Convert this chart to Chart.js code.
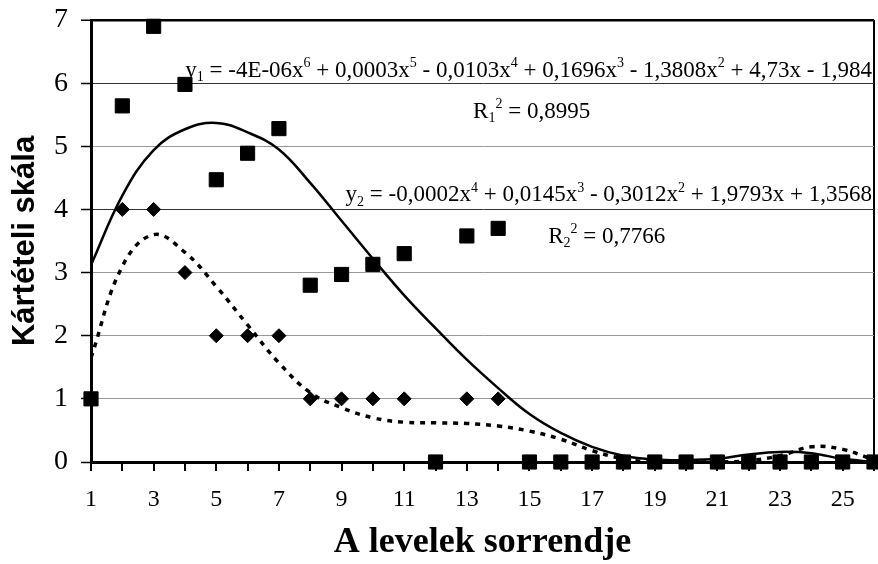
<!DOCTYPE html>
<html>
<head>
<meta charset="utf-8">
<script src="https://cdn.jsdelivr.net/npm/chart.js@4.4.1/dist/chart.umd.min.js"></script>
<style>
  html, body { margin: 0; padding: 0; background: #fff; }
</style>
</head>
<body>
<canvas id="chart" width="878" height="564"></canvas>
<script>
// DATA
const leafOrder = [1, 2, 3, 4, 5, 6, 7, 8, 9, 10, 11, 12, 13, 14, 15, 16, 17, 18, 19, 20, 21, 22, 23, 24, 25, 26];
const squareValues = [1, 5.64, 6.9, 5.98, 4.47, 4.89, 5.28, 2.8, 2.97, 3.13, 3.3, 0, 3.58, 3.7, 0, 0, 0, 0, 0, 0, 0, 0, 0, 0, 0, 0];
const diamondValues = [1, 4, 4, 3, 2, 2, 2, 1, 1, 1, 1, 0, 1, 1, 0, 0, 0, 0, 0, 0, 0, 0, 0, 0, 0, 0];
const trendSolid = [3.12, 4.22, 4.94, 5.27, 5.37, 5.22, 4.95, 4.42, 3.82, 3.22, 2.64, 2.12, 1.62, 1.17, 0.76, 0.46, 0.24, 0.1, 0.04, 0.03, 0.05, 0.12, 0.16, 0.14, 0.05, 0];
const trendDashed = [1.65, 3.1, 3.6, 3.32, 2.78, 2.17, 1.57, 1.1, 0.86, 0.7, 0.63, 0.62, 0.61, 0.57, 0.49, 0.36, 0.18, 0.05, 0, 0, 0, 0.02, 0.1, 0.24, 0.2, 0.03];
const xTickLabels = ['1', '3', '5', '7', '9', '11', '13', '15', '17', '19', '21', '23', '25'];
const yTickLabels = ['0', '1', '2', '3', '4', '5', '6', '7'];

// equation texts: [text, 0 normal / -1 subscript / 1 superscript]
const eq1Parts = [['y', 0], ['1', -1], [' = -4E-06x', 0], ['6', 1], [' + 0,0003x', 0], ['5', 1], [' - 0,0103x', 0], ['4', 1],
  [' + 0,1696x', 0], ['3', 1], [' - 1,3808x', 0], ['2', 1], [' + 4,73x - 1,984', 0]];
const r1Parts = [['R', 0], ['1', -1], ['2', 1], [' = 0,8995', 0]];
const eq2Parts = [['y', 0], ['2', -1], [' = -0,0002x', 0], ['4', 1], [' + 0,0145x', 0], ['3', 1], [' - 0,3012x', 0], ['2', 1],
  [' + 1,9793x + 1,3568', 0]];
const r2Parts = [['R', 0], ['2', -1], ['2', 1], [' = 0,7766', 0]];

function pairs(values) {
  return leafOrder.map((x, i) => ({ x: x, y: values[i] }));
}

// EQUATIONS
const equationPlugin = {
  id: 'equations',
  afterDraw(chart) {
    const { ctx, scales: { x, y } } = chart;
    const size = 23;
    const fontFor = k => (k === 0 ? size : Math.round(size * 0.62)) + 'px "Liberation Serif"';

    function drawRich(parts, px, py, alignRight) {
      ctx.save();
      ctx.fillStyle = '#000';
      ctx.textBaseline = 'alphabetic';
      let total = 0;
      parts.forEach(p => { ctx.font = fontFor(p[1]); total += ctx.measureText(p[0]).width; });
      let cx = alignRight ? px - total : px;
      parts.forEach(p => {
        ctx.font = fontFor(p[1]);
        let dy = p[1] === 1 ? -size * 0.42 : p[1] === -1 ? size * 0.18 : 0;
        ctx.fillText(p[0], cx, py + dy);
        cx += ctx.measureText(p[0]).width;
      });
      ctx.restore();
    }

    drawRich(eq1Parts, x.getPixelForValue(26) - 2, y.getPixelForValue(6) - 6, true);
    drawRich(r1Parts, x.getPixelForValue(13.2), y.getPixelForValue(5.45), false);
    drawRich(eq2Parts, x.getPixelForValue(26) - 2, y.getPixelForValue(4) - 8, true);
    drawRich(r2Parts, x.getPixelForValue(15.6), y.getPixelForValue(3.47), false);
  }
};

// CHART
new Chart(document.getElementById('chart'), {
  type: 'scatter',
  data: {
    datasets: [
      {
        data: pairs(squareValues),
        pointStyle: 'rect',
        pointRadius: 10,
        backgroundColor: '#000',
        borderColor: '#000',
        borderWidth: 1,
        clip: false,
        order: 0
      },
      {
        data: pairs(diamondValues),
        pointStyle: 'rectRot',
        pointRadius: 7,
        backgroundColor: '#000',
        borderColor: '#000',
        borderWidth: 1,
        clip: false,
        order: 1
      },
      {
        data: pairs(trendSolid),
        showLine: true,
        pointRadius: 0,
        borderColor: '#000',
        borderWidth: 2.5,
        tension: 0.4,
        order: 2
      },
      {
        data: pairs(trendDashed),
        showLine: true,
        pointRadius: 0,
        borderColor: '#000',
        borderWidth: 3.5,
        borderDash: [5, 6],
        tension: 0.4,
        order: 3
      }
    ]
  },
  options: {
    responsive: false,
    animation: false,
    layout: { autoPadding: false, padding: { top: 20, right: 4, left: 0, bottom: 0 } },
    plugins: {
      legend: { display: false },
      tooltip: { enabled: false }
    },
    scales: {
      x: {
        type: 'linear',
        min: 1,
        max: 26,
        afterFit: s => { s.height = 102; s.paddingLeft = 0; s.paddingRight = 0; },
        border: { color: '#000', width: 3 },
        grid: {
          color: c => (c.tick && c.tick.value === 26 ? '#000' : 'rgba(0,0,0,0)'),
          lineWidth: 2,
          tickColor: '#000',
          tickWidth: 2,
          tickLength: 9
        },
        ticks: {
          stepSize: 1,
          autoSkip: false,
          maxRotation: 0,
          padding: 14,
          color: '#000',
          font: { family: 'Liberation Serif', size: 24 },
          callback: v => (xTickLabels.includes(String(v)) ? String(v) : '')
        },
        title: {
          display: true,
          text: 'A levelek sorrendje',
          color: '#000',
          font: { family: 'Liberation Serif', size: 36, weight: 'bold' },
          padding: { top: 0, bottom: 0 }
        }
      },
      y: {
        min: 0,
        max: 7,
        afterFit: s => { s.width = 91; s.paddingTop = 0; s.paddingBottom = 0; },
        border: { color: '#000', width: 3 },
        grid: {
          color: c => {
            let v = c.tick ? c.tick.value : 0;
            if (v === 7) return '#000';
            if (v === 6 || v === 4) return '#333';
            return '#999';
          },
          lineWidth: c => (c.tick && c.tick.value === 7 ? 2.5 : 1),
          tickColor: '#000',
          tickWidth: 1.5,
          tickLength: 10
        },
        ticks: {
          stepSize: 1,
          padding: 13,
          color: '#000',
          font: { family: 'Liberation Serif', size: 28 },
          callback: v => yTickLabels[v]
        },
        title: {
          display: true,
          text: 'Kártételi skála',
          color: '#000',
          font: { family: 'Liberation Sans', size: 31, weight: 'bold' },
          padding: { top: 7, bottom: 0 }
        }
      }
    }
  },
  plugins: [equationPlugin]
});
</script>
</body>
</html>
